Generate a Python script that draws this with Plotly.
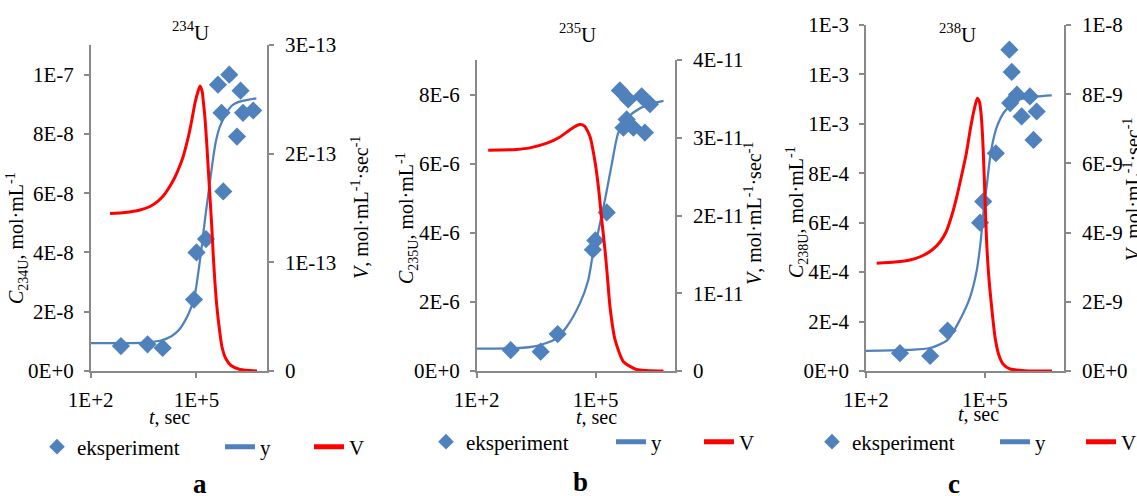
import plotly.graph_objects as go

# ---------------- data ----------------
# Panel a: 234U
t_exp_a = [720, 4100, 11000, 85000, 100000, 186000, 407000, 851000,
           1780000, 513000, 2090000, 4070000, 1410000, 575000]
c_exp_a = [8.4e-9, 9.0e-9, 7.8e-9, 2.41e-8, 4.0e-8, 4.45e-8, 9.66e-8, 1.0e-7,
           9.46e-8, 8.71e-8, 8.71e-8, 8.79e-8, 7.91e-8, 6.06e-8]
t_fit_a = [100, 1000, 3160, 10000, 20000, 31600, 50100, 70800, 89100, 112000,
           141000, 178000, 224000, 282000, 355000, 447000, 631000, 1.0e6,
           1.58e6, 2.82e6, 5.0e6]
y_fit_a = [9.4e-9, 9.4e-9, 9.6e-9, 1.03e-8, 1.18e-8, 1.38e-8, 1.75e-8, 2.15e-8,
           2.55e-8, 3.3e-8, 4.2e-8, 5.2e-8, 6.1e-8, 7.0e-8, 7.75e-8, 8.2e-8,
           8.6e-8, 8.95e-8, 9.08e-8, 9.15e-8, 9.2e-8]
t_rate_a = [352, 940, 2500, 4810, 8110, 12000, 17800, 24600, 31900, 41500,
            50500, 61400, 74700, 90800, 110000, 126000, 144000, 158000, 175000,
            195000, 216000, 242000, 267000, 300000, 335000, 382000, 450000,
            529000, 688000, 953000, 1.71e6, 5.2e6]
v_rate_a = [1.450e-13, 1.459e-13, 1.482e-13, 1.514e-13, 1.564e-13, 1.620e-13,
            1.702e-13, 1.785e-13, 1.868e-13, 1.969e-13, 2.070e-13, 2.181e-13,
            2.319e-13, 2.466e-13, 2.570e-13, 2.623e-13, 2.577e-13, 2.466e-13,
            2.319e-13, 2.098e-13, 1.859e-13, 1.592e-13, 1.371e-13, 1.058e-13,
            0.810e-13, 0.580e-13, 0.377e-13, 0.221e-13, 0.110e-13, 0.051e-13,
            0.014e-13, 0.0]

# Panel b: 235U
t_exp_b = [720, 4100, 11000, 85000, 98000, 190000, 407000, 661000,
           1445000, 2340000, 603000, 501000, 891000, 1740000]
c_exp_b = [6.05e-7, 5.6e-7, 1.07e-6, 3.51e-6, 3.78e-6, 4.59e-6, 8.12e-6, 7.86e-6,
           7.95e-6, 7.72e-6, 7.28e-6, 7.04e-6, 7.04e-6, 6.9e-6]
t_fit_b = [100, 1000, 3160, 10000, 18600, 39800, 64600, 87100, 112000, 141000,
           178000, 251000, 372000, 562000, 891000, 2.0e6, 5.13e6]
y_fit_b = [6.5e-7, 6.6e-7, 7.2e-7, 9.3e-7, 1.28e-6, 1.95e-6, 2.62e-6, 3.45e-6,
           3.95e-6, 4.5e-6, 5.05e-6, 5.95e-6, 6.9e-6, 7.25e-6, 7.48e-6, 7.7e-6, 7.82e-6]
t_rate_b = [195, 1000, 2190, 5890, 12600, 25100, 39800, 52500, 72400, 95500,
            117000, 141000, 174000, 200000, 229000, 309000, 501000, 1.07e6, 5.13e6]
v_rate_b = [2.84e-11, 2.85e-11, 2.87e-11, 2.93e-11, 3.01e-11, 3.12e-11, 3.17e-11,
            3.15e-11, 3.01e-11, 2.70e-11, 2.37e-11, 1.96e-11, 1.53e-11, 1.18e-11,
            0.83e-11, 0.40e-11, 0.12e-11, 0.02e-11, 0.0]

# Panel c: 238U
t_exp_c = [720, 4170, 11500, 75900, 91200, 190000, 417000, 479000,
           646000, 437000, 1380000, 851000, 2040000, 1700000]
c_exp_c = [7.2e-5, 6.1e-5, 1.63e-4, 6.0e-4, 6.86e-4, 8.81e-4, 1.30e-3, 1.21e-3,
           1.118e-3, 1.084e-3, 1.111e-3, 1.03e-3, 1.05e-3, 9.35e-4]
t_fit_c = [100, 1000, 4170, 11500, 23400, 42700, 63100, 79400, 93300, 112000,
           135000, 166000, 209000, 316000, 631000, 2.0e6, 4.9e6]
y_fit_c = [8.1e-5, 8.5e-5, 9.3e-5, 1.26e-4, 2.06e-4, 3.0e-4, 4.1e-4, 5.3e-4,
           6.5e-4, 7.5e-4, 8.6e-4, 9.4e-4, 9.95e-4, 1.05e-3, 1.095e-3, 1.11e-3, 1.115e-3]
t_rate_c = [186, 540, 1290, 2590, 4640, 7390, 10500, 14000, 18700, 25100,
            34300, 43600, 55000, 64700, 73500, 81100, 87500, 93300, 99400,
            106000, 114000, 124000, 135000, 156000, 181000, 222000, 288000,
            433000, 1.04e6, 4.98e6]
v_rate_c = [3.113e-9, 3.150e-9, 3.208e-9, 3.324e-9, 3.497e-9, 3.728e-9, 4.017e-9,
            4.422e-9, 4.942e-9, 5.578e-9, 6.301e-9, 7.023e-9, 7.601e-9, 7.882e-9,
            7.775e-9, 7.399e-9, 6.821e-9, 6.098e-9, 5.231e-9, 4.306e-9, 3.497e-9,
            2.832e-9, 2.341e-9, 1.618e-9, 0.983e-9, 0.491e-9, 0.202e-9, 0.058e-9,
            0.009e-9, 0.0]

# axis ticks and labels
x_tickvals = [1e2, 1e5]
x_ticktext = ["1E+2", "1E+5"]

c_tickvals_a = [0, 2e-8, 4e-8, 6e-8, 8e-8, 1e-7]
c_ticktext_a = ["0E+0", "2E-8", "4E-8", "6E-8", "8E-8", "1E-7"]
v_tickvals_a = [0, 1e-13, 2e-13, 3e-13]
v_ticktext_a = ["0", "1E-13", "2E-13", "3E-13"]

c_tickvals_b = [0, 2e-6, 4e-6, 6e-6, 8e-6]
c_ticktext_b = ["0E+0", "2E-6", "4E-6", "6E-6", "8E-6"]
v_tickvals_b = [0, 1e-11, 2e-11, 3e-11, 4e-11]
v_ticktext_b = ["0", "1E-11", "2E-11", "3E-11", "4E-11"]

c_tickvals_c = [0, 2e-4, 4e-4, 6e-4, 8e-4, 1.0e-3, 1.2e-3, 1.4e-3]
c_ticktext_c = ["0E+0", "2E-4", "4E-4", "6E-4", "8E-4", "1E-3", "1E-3", "1E-3"]
v_tickvals_c = [0, 2e-9, 4e-9, 6e-9, 8e-9, 1e-8]
v_ticktext_c = ["0E+0", "2E-9", "4E-9", "6E-9", "8E-9", "1E-8"]

isotopes = ["234", "235", "238"]
panel_letters = ["a", "b", "c"]
legend_labels = ["eksperiment", "y", "V"]

# ---------------- styling ----------------
W, H = 1137, 496
FONT = "Liberation Serif"
BLUE = "#4F81BD"
RED = "#FF0000"
GREY = "#898989"


def fx(p):
    return p / W


def fy(p):
    return 1 - p / H


panels = [
    dict(t_exp=t_exp_a, c_exp=c_exp_a, t_fit=t_fit_a, y_fit=y_fit_a,
         t_rate=t_rate_a, v_rate=v_rate_a,
         c_tv=c_tickvals_a, c_tt=c_ticktext_a, v_tv=v_tickvals_a, v_tt=v_ticktext_a,
         c_max=1.1e-7, v_max=3e-13,
         left=90.7, right=267, top=45,
         title_xy=(190, 32), ctitle_xy=(17, 238), vtitle_xy=(360, 208),
         ttitle_xy=(169.5, 417), letter_xy=(200, 484),
         legend_x=[37, 220, 309], legend_y=447),
    dict(t_exp=t_exp_b, c_exp=c_exp_b, t_fit=t_fit_b, y_fit=y_fit_b,
         t_rate=t_rate_b, v_rate=v_rate_b,
         c_tv=c_tickvals_b, c_tt=c_ticktext_b, v_tv=v_tickvals_b, v_tt=v_ticktext_b,
         c_max=9e-6, v_max=4e-11,
         left=476.7, right=675, top=60,
         title_xy=(577.5, 33), ctitle_xy=(407, 218), vtitle_xy=(753, 214),
         ttitle_xy=(596.5, 417), letter_xy=(580, 482),
         legend_x=[426, 611, 699], legend_y=442),
    dict(t_exp=t_exp_c, c_exp=c_exp_c, t_fit=t_fit_c, y_fit=y_fit_c,
         t_rate=t_rate_c, v_rate=v_rate_c,
         c_tv=c_tickvals_c, c_tt=c_ticktext_c, v_tv=v_tickvals_c, v_tt=v_ticktext_c,
         c_max=1.4e-3, v_max=1e-8,
         left=866, right=1064, top=25,
         title_xy=(957.5, 33), ctitle_xy=(797, 212), vtitle_xy=(1132, 190),
         ttitle_xy=(978, 414), letter_xy=(954, 484),
         legend_x=[812, 995, 1081], legend_y=442),
]

BOTTOM = 371
tickfont = dict(family=FONT, size=21, color="black")
axis_common = dict(showline=True, linecolor=GREY, linewidth=1.5, ticks="outside",
                   ticklen=5, tickwidth=1.5, tickcolor=GREY, showgrid=False,
                   zeroline=False, tickfont=tickfont, fixedrange=True,
                   automargin=False)

fig = go.Figure()
layout = dict(width=W, height=H,
              margin=dict(l=0, r=0, t=0, b=0, autoexpand=False),
              paper_bgcolor="white", plot_bgcolor="rgba(0,0,0,0)",
              font=dict(family=FONT, size=21, color="black"),
              showlegend=True, annotations=[])

for i, p in enumerate(panels):
    n = i + 1
    xa = "x" if n == 1 else f"x{n}"
    ya_left = "y" if n == 1 else f"y{2 * n - 1}"
    ya_right = f"y{2 * n}"
    leg = ["legend" if 3 * i + k == 0 else f"legend{3 * i + k + 1}" for k in range(3)]

    fig.add_trace(go.Scatter(
        x=p["t_exp"], y=p["c_exp"], mode="markers", name=legend_labels[0],
        marker=dict(symbol="diamond", size=14, color=BLUE, line=dict(width=0)),
        xaxis=xa, yaxis=ya_left, legend=leg[0], showlegend=True))
    fig.add_trace(go.Scatter(
        x=p["t_fit"], y=p["y_fit"], mode="lines", name=legend_labels[1],
        line=dict(color=BLUE, width=2.25, shape="spline", smoothing=0.7),
        xaxis=xa, yaxis=ya_left, legend=leg[1], showlegend=True))
    fig.add_trace(go.Scatter(
        x=p["t_rate"], y=p["v_rate"], mode="lines", name=legend_labels[2],
        line=dict(color=RED, width=3, shape="spline", smoothing=0.6),
        xaxis=xa, yaxis=ya_right, legend=leg[2], showlegend=True))

    xdom = [fx(p["left"]), fx(p["right"])]
    ydom = [fy(BOTTOM), fy(p["top"])]
    xkey = "xaxis" if n == 1 else f"xaxis{n}"
    ylkey = "yaxis" if n == 1 else f"yaxis{2 * n - 1}"
    yrkey = f"yaxis{2 * n}"

    layout[xkey] = dict(axis_common, domain=xdom, type="log", range=[2, 7],
                        anchor=ya_left, tickvals=x_tickvals, ticktext=x_ticktext,
                        ticklabelstandoff=4)
    layout[ylkey] = dict(axis_common, domain=ydom, range=[0, p["c_max"]],
                         anchor=xa, tickvals=p["c_tv"], ticktext=p["c_tt"],
                         ticklabelstandoff=6)
    layout[yrkey] = dict(axis_common, range=[0, p["v_max"]], overlaying=ya_left,
                         side="right", anchor=xa, tickvals=p["v_tv"],
                         ticktext=p["v_tt"], ticklabelstandoff=7)

    for k in range(3):
        layout[leg[k]] = dict(
            x=fx(p["legend_x"][k]), xanchor="left", y=fy(p["legend_y"]),
            yanchor="middle", orientation="h", bgcolor="rgba(0,0,0,0)",
            font=dict(family=FONT, size=21, color="black"),
            itemsizing="constant", borderwidth=0, visible=True)

    ann = layout["annotations"]
    ann.append(dict(text=f"<sup>{isotopes[i]}</sup>U", x=fx(p["title_xy"][0]),
                    y=fy(p["title_xy"][1]), xref="paper", yref="paper",
                    showarrow=False, xanchor="center", yanchor="middle",
                    font=dict(family=FONT, size=21, color="black")))
    ann.append(dict(text=f"<i>C</i><sub>{isotopes[i]}U</sub>, mol·mL<sup>-1</sup>",
                    x=fx(p["ctitle_xy"][0]), y=fy(p["ctitle_xy"][1]),
                    xref="paper", yref="paper", showarrow=False, textangle=-90,
                    xanchor="center", yanchor="middle",
                    font=dict(family=FONT, size=20, color="black")))
    ann.append(dict(text="<i>V</i>, mol·mL<sup>-1</sup>·sec<sup>-1</sup>",
                    x=fx(p["vtitle_xy"][0]), y=fy(p["vtitle_xy"][1]),
                    xref="paper", yref="paper", showarrow=False, textangle=-90,
                    xanchor="center", yanchor="middle",
                    font=dict(family=FONT, size=20, color="black")))
    ann.append(dict(text="<i>t</i>, sec", x=fx(p["ttitle_xy"][0]),
                    y=fy(p["ttitle_xy"][1]), xref="paper", yref="paper",
                    showarrow=False, xanchor="center", yanchor="middle",
                    font=dict(family=FONT, size=20, color="black")))
    ann.append(dict(text=f"<b>{panel_letters[i]}</b>", x=fx(p["letter_xy"][0]),
                    y=fy(p["letter_xy"][1]), xref="paper", yref="paper",
                    showarrow=False, xanchor="center", yanchor="middle",
                    font=dict(family=FONT, size=27, color="black")))

fig.update_layout(**layout)
fig.write_html("out.html")
